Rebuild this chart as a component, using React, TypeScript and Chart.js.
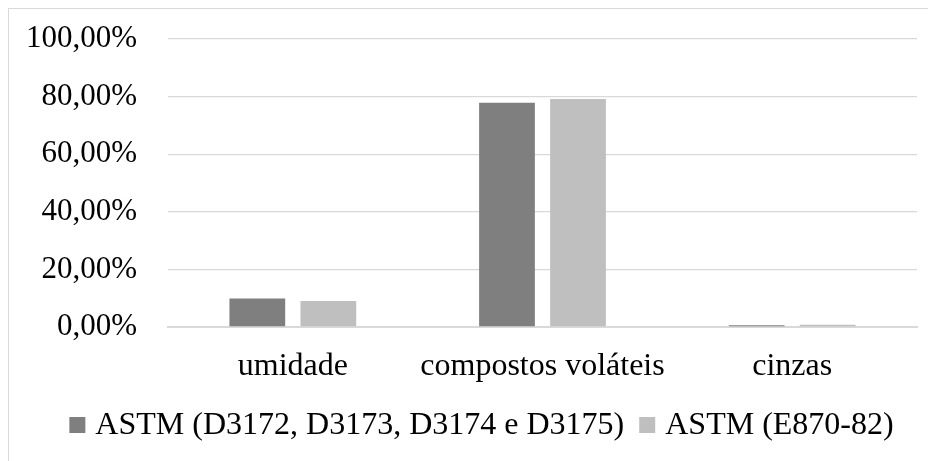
import React, { useEffect, useRef } from "react";
import { Chart, registerables } from "chart.js";

Chart.register(...registerables);

const categories: string[] = ["umidade", "compostos voláteis", "cinzas"];
const seriesNames: string[] = ["ASTM (D3172, D3173, D3174 e D3175)", "ASTM (E870-82)"];
const seriesA: number[] = [9.9, 77.9, 0.6];
const seriesB: number[] = [9.0, 79.2, 0.8];
const seriesColors: string[] = ["#7f7f7f", "#bfbfbf"];
const yTicks: number[] = [0, 20, 40, 60, 80, 100];

const FONT = '"Liberation Serif", "Times New Roman", serif';

function fmt(v: number): string {
  return v.toFixed(2).replace(".", ",") + "%";
}

const legendPlugin = {
  id: "bottomLegend",
  afterDraw(chart: any) {
    const ctx = chart.ctx as CanvasRenderingContext2D;
    const box = 16;
    const gap = 10;
    const itemGap = 15;
    ctx.save();
    ctx.font = `32px ${FONT}`;
    const items = chart.data.datasets.map((ds: any) => ({
      text: String(ds.label),
      color: String(ds.backgroundColor),
      w: ctx.measureText(String(ds.label)).width,
    }));
    const total =
      items.reduce((s: number, it: any) => s + box + gap + it.w, 0) + itemGap * (items.length - 1);
    let x = chart.width / 2 - total / 2 + 2;
    const baseline = chart.height - 27;
    ctx.textBaseline = "alphabetic";
    ctx.textAlign = "left";
    for (const it of items) {
      ctx.fillStyle = it.color;
      ctx.fillRect(x, baseline - 17, box, box);
      ctx.fillStyle = "#000";
      ctx.fillText(it.text, x + box + gap, baseline);
      x += box + gap + it.w + itemGap;
    }
    ctx.restore();
  },
};

export default function App() {
  const ref = useRef<HTMLCanvasElement | null>(null);

  useEffect(() => {
    if (!ref.current) return;
    const chart = new Chart(ref.current, {
      type: "bar",
      data: {
        labels: categories,
        datasets: [
          { label: seriesNames[0], data: seriesA, backgroundColor: seriesColors[0], borderWidth: 0 },
          { label: seriesNames[1], data: seriesB, backgroundColor: seriesColors[1], borderWidth: 0 },
        ],
      },
      plugins: [legendPlugin],
      options: {
        animation: false,
        responsive: true,
        maintainAspectRatio: false,
        layout: { padding: { left: 19, right: 33, top: 30, bottom: 59 } },
        datasets: { bar: { categoryPercentage: 0.569, barPercentage: 0.785 } },
        plugins: {
          legend: { display: false },
          tooltip: { enabled: false },
        },
        scales: {
          x: {
            grid: { display: false, drawTicks: false },
            border: { display: true, color: "#d9d9d9", width: 2 },
            ticks: {
              font: { family: FONT, size: 32 },
              color: "#000",
              padding: 20,
              maxRotation: 0,
              minRotation: 0,
              autoSkip: false,
            },
            afterFit: (axis: any) => {
              axis.height = 75;
            },
          },
          y: {
            min: 0,
            max: 100,
            afterBuildTicks: (axis: any) => {
              axis.ticks = yTicks.map((v) => ({ value: v }));
            },
            afterFit: (axis: any) => {
              axis.width = 140;
              axis.paddingTop = 0;
              axis.paddingBottom = 0;
            },
            grid: { color: "#d9d9d9", lineWidth: 1.3, drawTicks: false },
            border: { display: false },
            ticks: {
              font: { family: FONT, size: 31 },
              color: "#000",
              padding: 31,
              callback: (v: any) => fmt(Number(v)),
            },
          },
        },
      },
    });
    return () => chart.destroy();
  }, []);

  return (
    <div style={{ width: 928, height: 453, overflow: "hidden" }}>
      <div
        style={{
          width: 960,
          height: 480,
          borderTop: "1px solid #d9d9d9",
          borderLeft: "1px solid #d9d9d9",
        }}
      >
        <div style={{ position: "relative", width: 941, height: 452 }}>
          <canvas ref={ref} />
        </div>
      </div>
    </div>
  );
}
